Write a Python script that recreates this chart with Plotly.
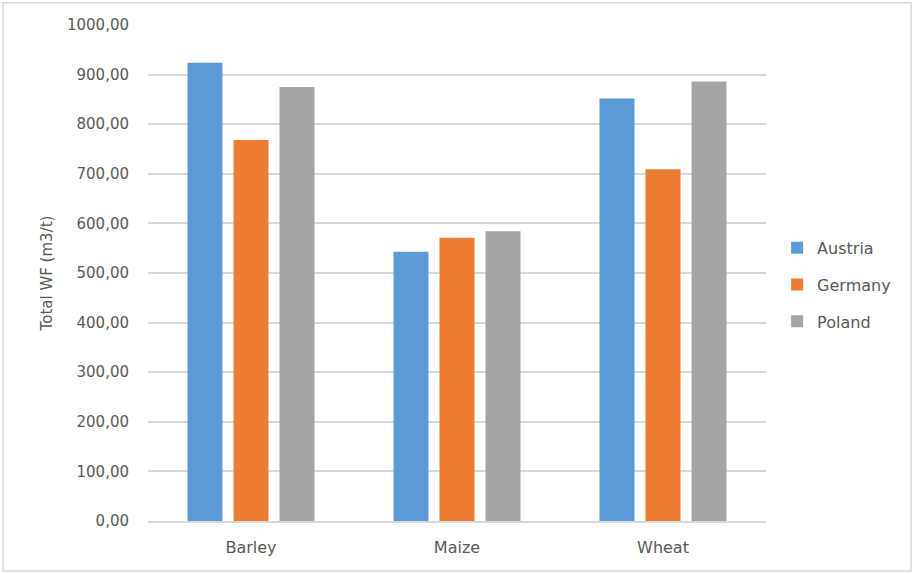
import plotly.graph_objects as go

# Total water footprint per crop and country
crops = ["Barley", "Maize", "Wheat"]
austria = [924, 543, 852]
germany = [768, 571, 709]
poland = [875, 584, 886]

countries = ["Austria", "Germany", "Poland"]
colors = ["#5b9bd5", "#ed7d31", "#a5a5a5"]
series = [austria, germany, poland]

y_ticks = [0, 100, 200, 300, 400, 500, 600, 700, 800, 900, 1000]

fig = go.Figure()
for name, vals, col in zip(countries, series, colors):
    fig.add_trace(go.Bar(
        x=crops, y=vals, name=name, legendgroup=name,
        marker=dict(color=col, line=dict(width=0)),
    ))

text_color = "#595959"
font_family = "DejaVu Sans, sans-serif"
fig.update_layout(
    width=912, height=574,
    margin=dict(l=148, r=146, t=25, b=53),
    paper_bgcolor="white", plot_bgcolor="white",
    font=dict(family=font_family, size=15, color=text_color),
    separators=", ",
    barmode="group", bargap=0.33, bargroupgap=0.24,
    legend=dict(
        x=1.018, xanchor="left", y=0.585, yanchor="top",
        font=dict(size=16, color=text_color),
        tracegroupgap=13, traceorder="grouped",
    ),
    shapes=[dict(
        type="rect", xref="paper", yref="paper",
        x0=-145 / 618, x1=763 / 618, y0=-50 / 495.7, y1=518 / 495.7,
        line=dict(color="#d9d9d9", width=1.5), fillcolor="rgba(0,0,0,0)",
        layer="below",
    )],
)
fig.update_xaxes(
    showgrid=False, showline=True, linecolor="#d9d9d9", linewidth=1.5,
    ticks="", ticklabelstandoff=11,
    tickfont=dict(family=font_family, size=16, color=text_color),
)
fig.update_yaxes(
    range=[0, 1000], tickvals=y_ticks, tickformat=".2f",
    showgrid=True, gridcolor="#d9d9d9", gridwidth=1.5,
    zeroline=False, showline=False, ticks="", ticklabelstandoff=18,
    tickfont=dict(family=font_family, size=15, color=text_color),
    title=dict(text="Total WF (m3/t)", font=dict(family=font_family, size=15, color=text_color), standoff=10),
)

fig.write_html("out.html")
